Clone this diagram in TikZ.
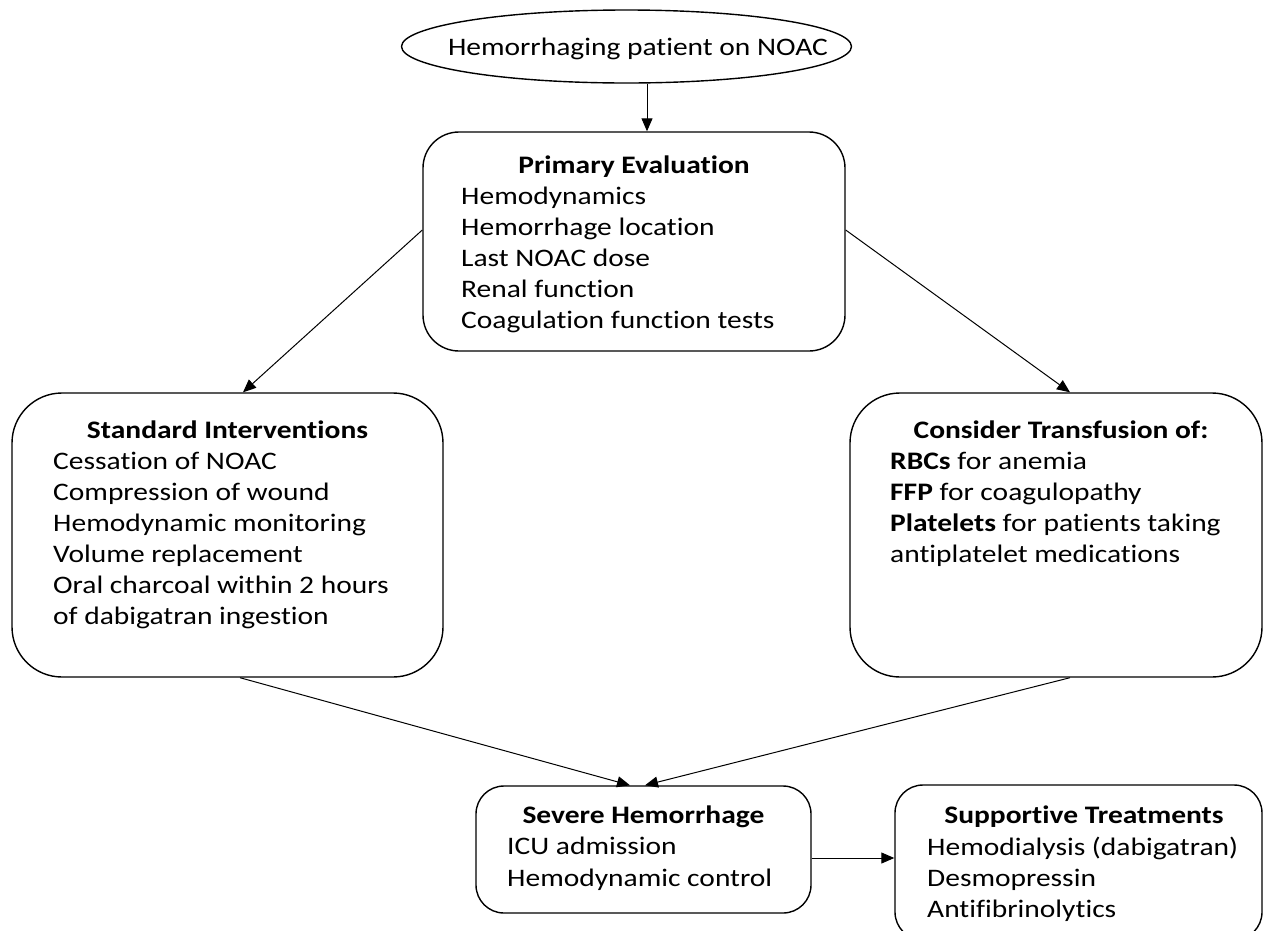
\documentclass[tikz,border=0pt]{standalone}
\usepackage{fontspec}
\setmainfont{Carlito}[FakeStretch=1.17,Ligatures=NoCommon]
\usetikzlibrary{arrows.meta,shapes.geometric,calc}
\begin{document}
\begin{tikzpicture}[x=1pt,y=1pt,
  box/.style={draw=black, line width=1.4pt, inner sep=0pt},
  arr/.style={draw=black, line width=1.0pt, -{Triangle[length=13pt,width=11pt]}},
  ttl/.style={font=\fontsize{25.2}{31}\selectfont\bfseries, anchor=base, inner sep=0pt},
  itm/.style={font=\fontsize{25.2}{31}\selectfont, anchor=base west, inner sep=0pt}]
\useasboundingbox (0,0) rectangle (1264,-930);

% boxes
\node[box, ellipse, minimum width=450pt, minimum height=73pt] (start) at (626.5,-46.5) {};
\node[box, rounded corners=36pt, minimum width=422pt, minimum height=219pt] (pe) at (634,-241.5) {};
\node[box, rounded corners=50pt, minimum width=431pt, minimum height=284pt] (std) at (227.5,-535) {};
\node[box, rounded corners=50pt, minimum width=412pt, minimum height=284pt] (tr) at (1056,-535) {};
\node[box, rounded corners=28pt, minimum width=335pt, minimum height=127pt] (sev) at (643.5,-849.5) {};
\node[box, rounded corners=28pt, minimum width=367pt, minimum height=155pt] (sup) at (1078.5,-862.5) {};

% texts
\node[itm, anchor=base] (starttxt) at (638,-55) {Hemorrhaging patient on NOAC};

\node[ttl] (pettl) at (634,-173) {Primary Evaluation};
\foreach \t [count=\i] in {Hemodynamics,Hemorrhage location,Last NOAC dose,Renal function,Coagulation function tests}
  \node[itm] (pet\i) at (461,{-204-31*(\i-1)}) {\t};

\node[ttl] (stdttl) at (227.5,-438) {Standard Interventions};
\foreach \t [count=\i] in {Cessation of NOAC,Compression of wound,Hemodynamic monitoring,Volume replacement,Oral charcoal within 2 hours,of dabigatran ingestion}
  \node[itm] (stdt\i) at (53,{-469-31*(\i-1)}) {\t};

\node[ttl] (trttl) at (1061,-438) {Consider Transfusion of:};
\node[itm] (trt1) at (890,-469) {\textbf{RBCs} for anemia};
\node[itm] (trt2) at (890,-500) {\textbf{FFP} for coagulopathy};
\node[itm] (trt3) at (890,-531) {\textbf{Platelets} for patients taking};
\node[itm] (trt4) at (890,-562) {antiplatelet medications};

\node[ttl] (sevttl) at (643.5,-823) {Severe Hemorrhage};
\node[itm] (sevt1) at (507,-854) {ICU admission};
\node[itm] (sevt2) at (507,-886) {Hemodynamic control};

\node[ttl] (supttl) at (1084,-823) {Supportive Treatments};
\node[itm] (supt1) at (927,-855) {Hemodialysis (dabigatran)};
\node[itm] (supt2) at (927,-886) {Desmopressin};
\node[itm] (supt3) at (927,-917) {Antifibrinolytics};

% connectors
\draw[arr] ([xshift=20.5pt]start.south) -- ([xshift=13pt]pe.north);
\draw[arr] ([yshift=11.5pt]pe.west) -- ([xshift=15.5pt]std.north);
\draw[arr] ([yshift=11.5pt]pe.east) -- ([xshift=14pt]tr.north);
\draw[arr] ([xshift=12.5pt]std.south) -- ([xshift=-13.5pt]sev.north);
\draw[arr] ([xshift=14pt]tr.south) -- ([xshift=1.5pt]sev.north);
\draw[arr] ([yshift=-8.5pt]sev.east) -- ([yshift=4.5pt]sup.west);
\end{tikzpicture}
\end{document}
